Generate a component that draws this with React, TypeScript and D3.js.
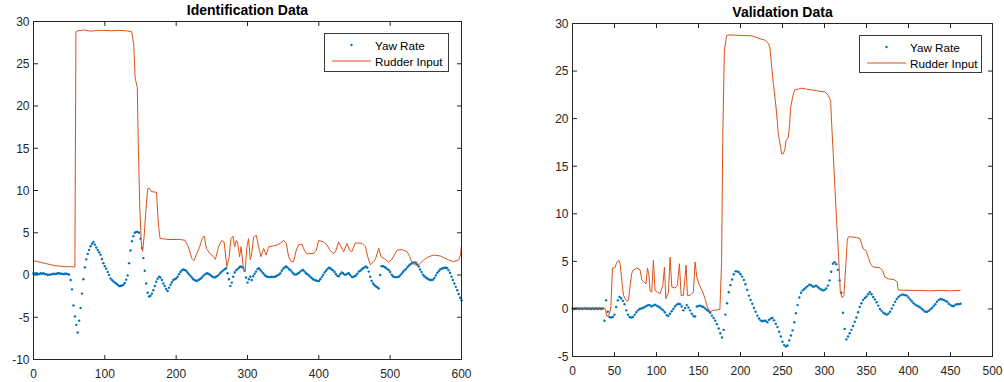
import React from 'react';
import * as d3 from 'd3';

const YAW_COLOR = '#0072BD';
const RUDDER_COLOR = '#D95319';
const AXIS_COLOR = '#262626';
const FONT = 'Arial, "Liberation Sans", Helvetica, sans-serif';

const legendLabels = ['Yaw Rate', 'Rudder Input'];

// Identification run, yaw rate sampled every 2 s
const idYawStep = 2;
const idYaw = [
  0.2, 0.15, 0.2, 0.15, 0.1, 0.2, 0.15, 0.2, 0.1, 0.1,
  0.0, 0.05, 0.05, 0.1, 0.15, 0.1, 0.15, 0.2, 0.2, 0.15,
  0.15, 0.1, 0.15, 0.15, 0.1, 0.05, -0.6, -1.7, -3.6, -4.9,
  -5.9, -6.8, -5.4, -3.9, -2.2, -0.5, 0.9, 1.85, 2.5, 2.95,
  3.4, 3.7, 3.9, 3.6, 3.25, 2.95, 2.7, 2.4, 1.9, 1.4,
  1.05, 0.75, 0.35, 0.0, -0.4, -0.6, -0.75, -0.9, -1.0, -1.15,
  -1.3, -1.3, -1.25, -1.15, -0.95, -0.55, -0.05, 1.4, 2.9, 4.0,
  4.6, 5.0, 5.1, 5.1, 5.0, 4.3, 3.2, 2.0, 0.5, -1.0,
  -2.1, -2.55, -2.45, -2.2, -1.8, -1.3, -0.8, -0.45, -0.2, -0.3,
  -0.6, -1.0, -1.3, -1.65, -1.9, -1.5, -1.15, -0.85, -0.6, -0.5,
  -0.4, -0.2, 0.1, 0.35, 0.55, 0.65, 0.6, 0.5, 0.3, 0.1,
  -0.1, -0.3, -0.5, -0.6, -0.7, -0.65, -0.55, -0.45, -0.3, -0.1,
  0.05, 0.15, 0.2, 0.1, 0.0, -0.15, -0.25, -0.3, -0.2, -0.1,
  0.05, 0.25, 0.4, 0.55, 0.7, 0.8, 0.2, -0.5, -1.3, -0.9,
  -0.2, 0.3, 0.55, 0.7, 0.85, 1.0, 0.95, 0.85, 0.5, -0.3,
  -0.9, -0.5, -0.2, -0.6, -0.15, 0.15, 0.4, 0.7, 0.8, 0.6,
  0.4, 0.2, 0.0, -0.15, -0.2, -0.25, -0.25, -0.2, -0.25, -0.2,
  -0.15, -0.05, 0.05, 0.2, 0.5, 0.75, 0.9, 1.0, 0.9, 0.7,
  0.6, 0.4, 0.2, 0.05, 0.05, 0.15, 0.25, 0.4, 0.55, 0.6,
  0.4, 0.2, 0.1, -0.05, -0.2, -0.35, -0.5, -0.6, -0.65, -0.7,
  -0.7, -0.5, -0.25, 0.0, 0.3, 0.5, 0.7, 0.85, 0.8, 0.65,
  0.55, 0.35, 0.1, -0.1, -0.15, 0.1, 0.3, 0.2, 0.05, 0.05,
  0.15, 0.2, 0.0, -0.2, -0.25, -0.15, -0.05, 0.15, 0.4, 0.5,
  0.65, 0.8, 0.9, 1.0, 0.85, 0.4, -0.2, -0.7, -1.0, -1.2,
  -1.35, -1.45, -1.6, 0.0, 1.05, 1.05, 0.95, 0.85, 0.7, 0.6,
  0.35, 0.05, -0.15, -0.25, -0.25, -0.25, -0.2, -0.05, 0.15, 0.35,
  0.55, 0.7, 0.9, 1.1, 1.25, 1.35, 1.45, 1.5, 1.45, 1.25,
  1.0, 0.65, 0.35, 0.05, -0.15, -0.3, -0.4, -0.5, -0.6, -0.6,
  -0.55, -0.35, -0.05, 0.25, 0.45, 0.65, 0.75, 0.8, 0.85, 0.85,
  0.8, 0.55, 0.25, -0.2, -0.6, -1.0, -1.4, -1.8, -2.25, -2.7,
  -3.0,
];

// Identification run, rudder input [time, deg]
const idRudder: [number, number][] = [
  [0, 1.7], [10, 1.5], [20, 1.3], [30, 1.1], [45, 1.0], [58, 0.95], [59.5, 28.8],
  [62, 28.9], [70, 29.0], [80, 28.85], [90, 28.95], [100, 28.95], [110, 28.9],
  [120, 28.95], [130, 28.9], [137.5, 28.8], [140.5, 27.3], [142.5, 23.3], [145.5, 22.2],
  [147, 15], [149, 8], [151, 4.0], [153, 2.8], [155, 4.5], [157, 7], [160, 10.2],
  [162, 10.3], [165, 9.9], [170, 9.8], [172.5, 9.8], [175, 6], [177.5, 4.3], [180, 4.3],
  [190, 4.2], [200, 4.2], [206, 4.2], [212.6, 4.1], [217, 3.35], [222, 1.97], [225, 1.7],
  [229, 2.56], [233, 3.35], [236.5, 4.3], [239.3, 4.6], [242.4, 3.15], [247, 2.56],
  [252.4, 2.16], [255, 1.85], [259.4, 3.35], [264, 4.1], [267.2, 3.9], [271, 1.0],
  [274, 1.97], [276.8, 4.3], [279.6, 4.6], [281.9, 3.35], [284.3, 4.1], [286, 3.9],
  [288.9, 2.16], [291, 3.35], [294.5, 0.6], [296.8, 0.6], [299.2, 3.35], [301.5, 4.3],
  [303.9, 1.8], [306, 2.56], [308.5, 4.5], [312.3, 4.7], [315.6, 3.35], [318.8, 2.16],
  [322.6, 3.15], [326.3, 2.36], [329.6, 3.35], [334.3, 3.4], [341.3, 3.55], [346, 3.75],
  [350.7, 4.1], [354.4, 3.75], [357.6, 2.16], [361.4, 1.58], [364.6, 1.58], [368.4, 2.95],
  [371.6, 3.55], [376.3, 3.65], [379.6, 2.95], [383.3, 2.5], [392.7, 2.56], [396.5, 2.95],
  [399.8, 4.1], [406.8, 3.9], [411.5, 3.55], [415, 3.0], [420, 2.56], [423.3, 2.75],
  [427.8, 3.9], [431, 3.35], [434.8, 2.75], [439.5, 3.75], [443, 2.95], [446.3, 2.75],
  [451.2, 3.8], [460.6, 3.75], [465.3, 3.35], [468.5, 2.16], [472.3, 1.2], [476, 1.5],
  [479.3, 1.85], [484, 3.15], [487.3, 2.16], [493.3, 1.85], [498, 1.5], [502, 1.8],
  [509.8, 2.95], [516.8, 3.0], [523.8, 2.75], [527.5, 2.16], [530.8, 1.4], [535.5, 1.2],
  [538.7, 1.1], [542.5, 1.4], [547, 1.8], [554, 2.16], [561, 2.36], [570.5, 2.25],
  [580, 1.85], [589, 1.58], [596, 1.8], [598.6, 2.36], [600, 3.55],
];

// Validation run, yaw rate sampled every 2 s
const valYawStep = 2;
const valYaw = [
  0.05, 0.0, 0.05, 0.05, 0.0, 0.05, 0.0, 0.05, 0.05, 0.0,
  0.05, 0.0, 0.05, 0.0, 0.05, 0.0, 0.05, 0.0, 0.05, -1.25,
  0.9, -0.3, -0.85, -0.9, -0.85, -0.6, 0.2, 0.9, 1.25, 1.1,
  0.85, 0.5, -0.15, -0.6, -0.85, -0.9, -0.85, -0.6, -0.35, -0.15,
  0.0, 0.05, 0.1, 0.2, 0.3, 0.4, 0.4, 0.25, 0.35, 0.45,
  0.35, 0.25, 0.15, 0.0, -0.15, -0.35, -0.65, -0.75, -0.5, -0.25,
  0.0, 0.25, 0.45, 0.55, 0.5, 0.25, -0.15, 0.1, 0.4, 0.15,
  -0.15, -0.5, -0.75, -0.8, 0.25, 0.3, 0.35, 0.25, 0.2, 0.05,
  -0.1, -0.25, -0.4, -0.7, -0.95, -1.25, -1.6, -2.05, -2.55, -3.0,
  -2.2, -0.6, 0.6, 1.75, 2.5, 3.1, 3.65, 3.95, 3.95, 3.85,
  3.65, 3.4, 3.05, 2.6, 2.0, 1.4, 0.95, 0.55, 0.1, -0.3,
  -0.7, -1.0, -1.2, -1.3, -1.25, -1.25, -1.4, -1.15, -1.0, -0.95,
  -1.2, -1.55, -1.9, -2.4, -2.9, -3.45, -3.8, -3.95, -3.85, -3.3,
  -2.8, -2.25, -1.4, -0.45, 0.4, 1.2, 1.7, 1.95, 2.1, 2.25,
  2.4, 2.55, 2.5, 2.35, 2.35, 2.45, 2.3, 2.15, 2.05, 1.95,
  2.0, 2.15, 2.45, 3.0, 3.9, 4.75, 4.9, 4.7, 4.1, 3.0,
  1.7, -0.4, -2.1, -3.2, -2.9, -2.55, -2.2, -1.8, -1.35, -0.9,
  -0.35, 0.2, 0.6, 0.95, 1.15, 1.3, 1.55, 1.75, 1.55, 1.25,
  1.0, 0.7, 0.35, 0.0, -0.2, -0.4, -0.5, -0.6, -0.5, -0.3,
  0.05, 0.4, 0.75, 1.05, 1.25, 1.4, 1.5, 1.5, 1.45, 1.4,
  1.2, 1.0, 0.8, 0.6, 0.45, 0.35, 0.25, 0.15, 0.0, -0.15,
  -0.3, -0.3, -0.2, -0.05, 0.1, 0.3, 0.5, 0.75, 0.95, 1.05,
  1.0, 0.95, 0.85, 0.75, 0.55, 0.4, 0.3, 0.3, 0.45, 0.5,
  0.5, 0.55,
];

// Validation run, rudder input [time, deg]
const valRudder: [number, number][] = [
  [0, 0.1], [36.9, 0.1], [39, 0.0], [41, -0.8], [43.5, -0.6], [45.6, 0.1], [47.6, 4.3],
  [50.3, 4.3], [52.8, 4.9], [55.1, 5.1], [56.7, 4.75], [58.7, 3.0], [60.7, 1.42],
  [62.7, 1.06], [64.7, 0.82], [66.7, 0.9], [68.6, 2.47], [70.6, 3.77], [72.6, 4.1],
  [76.5, 4.3], [80.5, 4.1], [82.5, 3.05], [85.3, 2.8], [87.6, 2.65], [89.2, 4.3],
  [90.8, 3.7], [92.4, 1.87], [94.4, 1.77], [96.3, 5.1], [98.3, 1.96], [101.1, 1.77],
  [104.2, 1.6], [107.5, 2.47], [109.5, 4.4], [111.1, 1.07], [114.2, 1.77], [116.2, 5.45],
  [118.2, 2.3], [122.1, 2.2], [124.8, 2.47], [127.3, 4.75], [129.3, 1.42], [132, 1.42],
  [135.2, 4.6], [136.8, 1.42], [140, 1.42], [143.9, 1.77], [145.9, 4.93], [148, 3.35],
  [151.2, 2.47], [155.1, 1.77], [157.8, 1.06], [160.6, 0.2], [163.8, -0.33], [167, -0.15],
  [171.8, -0.1], [175.5, -0.05], [177.5, 5], [178.9, 18], [180.8, 27.2], [183.6, 28.75],
  [187.5, 28.8], [200, 28.75], [213.4, 28.7], [217.3, 28.6], [223.2, 28.4], [229.2, 28.25],
  [233.1, 27.9], [235, 27.5], [237.2, 25.4], [239.1, 23.7], [242.3, 21.2], [243.9, 19.6],
  [245, 18.4], [246.4, 17.7], [249, 16.3], [251, 16.3], [253, 16.85], [254.2, 17.7],
  [256.9, 18.0], [258.4, 19.3], [259.7, 21.2], [262.9, 22.6], [264.9, 23.05], [268.8, 23.1],
  [272.7, 23.2], [278.8, 23.1], [286.7, 23.0], [292.6, 22.9], [300.5, 22.8], [304.5, 22.46],
  [307.3, 21.9], [308.5, 19.5], [310.4, 16.3], [312.4, 12.8], [314.4, 9.3], [315.6, 7.5],
  [317.6, 4.05], [318.8, 1.77], [321.1, 1.18], [323.1, 1.42], [325.5, 4.75], [327.1, 7.2],
  [328.3, 7.55], [329.4, 7.6], [338.2, 7.5], [342.2, 7.4], [344.2, 6.85], [346.1, 6.3],
  [349.3, 6.15], [352, 5.45], [354.8, 4.75], [358, 4.4], [366, 4.33], [369.1, 4.05],
  [371.9, 3.35], [375.9, 3.17], [383.8, 3.05], [386.6, 2.8], [387.7, 2.0], [393.7, 1.96],
  [410, 1.95], [425, 1.9], [440, 1.95], [450, 1.9], [461.9, 1.95],
];

const idXTicks = [0, 100, 200, 300, 400, 500, 600];
const idYTicks = [-10, -5, 0, 5, 10, 15, 20, 25, 30];
const valXTicks = [0, 50, 100, 150, 200, 250, 300, 350, 400, 450, 500];
const valYTicks = [-5, 0, 5, 10, 15, 20, 25, 30];

interface Box { left: number; right: number; top: number; bottom: number }
interface LegendBox { x: number; y: number; w: number; h: number }

interface PanelProps {
  title: string;
  box: Box;
  xDomain: [number, number];
  yDomain: [number, number];
  xTicks: number[];
  yTicks: number[];
  yaw: number[];
  yawStep: number;
  rudder: [number, number][];
  legend: LegendBox;
  xLabelDy: number;
}

function Panel({ title, box, xDomain, yDomain, xTicks, yTicks, yaw, yawStep, rudder, legend, xLabelDy }: PanelProps) {
  const x = d3.scaleLinear().domain(xDomain).range([box.left, box.right]);
  const y = d3.scaleLinear().domain(yDomain).range([box.bottom, box.top]);
  const line = d3.line<[number, number]>().x(d => x(d[0])).y(d => y(d[1]));
  const T = 4.5;

  return (
    <g fontFamily={FONT}>
      <text x={(box.left + box.right) / 2} y={box.top - 6.5} textAnchor="middle"
        fontWeight="bold" fontSize={14} fill="#000">{title}</text>

      {/* yaw rate first, rudder drawn over it */}
      {yaw.map((v, i) => (
        <circle key={i} cx={x(i * yawStep)} cy={y(v)} r={1.2} fill={YAW_COLOR} />
      ))}
      <path d={line(rudder) ?? ''} fill="none" stroke={RUDDER_COLOR} strokeWidth={1} />

      <rect x={box.left} y={box.top} width={box.right - box.left} height={box.bottom - box.top}
        fill="none" stroke={AXIS_COLOR} strokeWidth={1} />

      {xTicks.map(t => (
        <g key={`x${t}`}>
          <line x1={x(t)} x2={x(t)} y1={box.bottom} y2={box.bottom - T} stroke={AXIS_COLOR} />
          <line x1={x(t)} x2={x(t)} y1={box.top} y2={box.top + T} stroke={AXIS_COLOR} />
          <text x={x(t)} y={box.bottom + xLabelDy} textAnchor="middle" fontSize={12} fill={AXIS_COLOR}>{t}</text>
        </g>
      ))}
      {yTicks.map(t => (
        <g key={`y${t}`}>
          <line x1={box.left} x2={box.left + T} y1={y(t)} y2={y(t)} stroke={AXIS_COLOR} />
          <line x1={box.right} x2={box.right - T} y1={y(t)} y2={y(t)} stroke={AXIS_COLOR} />
          <text x={box.left - 4} y={y(t)} dy="0.36em" textAnchor="end" fontSize={12} fill={AXIS_COLOR}>{t}</text>
        </g>
      ))}

      <g>
        <rect x={legend.x + 0.5} y={legend.y + 0.5} width={legend.w} height={legend.h}
          fill="#fff" stroke="#3a3a3a" strokeWidth={1} />
        <circle cx={legend.x + 27.5} cy={legend.y + 12} r={1.2} fill={YAW_COLOR} />
        <line x1={legend.x + 8} x2={legend.x + 47} y1={legend.y + 28} y2={legend.y + 28}
          stroke={RUDDER_COLOR} strokeWidth={1} />
        <text x={legend.x + 51} y={legend.y + 17} fontSize={11.7} fill="#000">{legendLabels[0]}</text>
        <text x={legend.x + 51} y={legend.y + 33} fontSize={11.7} fill="#000">{legendLabels[1]}</text>
      </g>
    </g>
  );
}

export default function App() {
  return (
    <div style={{ position: 'absolute', left: 0, top: 0, background: '#fff' }}>
      <svg width={1004} height={382} viewBox="0 0 1004 382" style={{ display: 'block' }}>
        <rect width={1004} height={382} fill="#fff" />
        <Panel
          title="Identification Data"
          box={{ left: 33.5, right: 461.5, top: 21.5, bottom: 359.5 }}
          xDomain={[0, 600]}
          yDomain={[-10, 30]}
          xTicks={idXTicks}
          yTicks={idYTicks}
          yaw={idYaw}
          yawStep={idYawStep}
          rudder={idRudder}
          legend={{ x: 324, y: 33, w: 124, h: 38 }}
          xLabelDy={18}
        />
        <Panel
          title="Validation Data"
          box={{ left: 572.5, right: 992.5, top: 23.5, bottom: 356.5 }}
          xDomain={[0, 500]}
          yDomain={[-5, 30]}
          xTicks={valXTicks}
          yTicks={valYTicks}
          yaw={valYaw}
          yawStep={valYawStep}
          rudder={valRudder}
          legend={{ x: 859, y: 35, w: 122, h: 37 }}
          xLabelDy={18.5}
        />
      </svg>
    </div>
  );
}
